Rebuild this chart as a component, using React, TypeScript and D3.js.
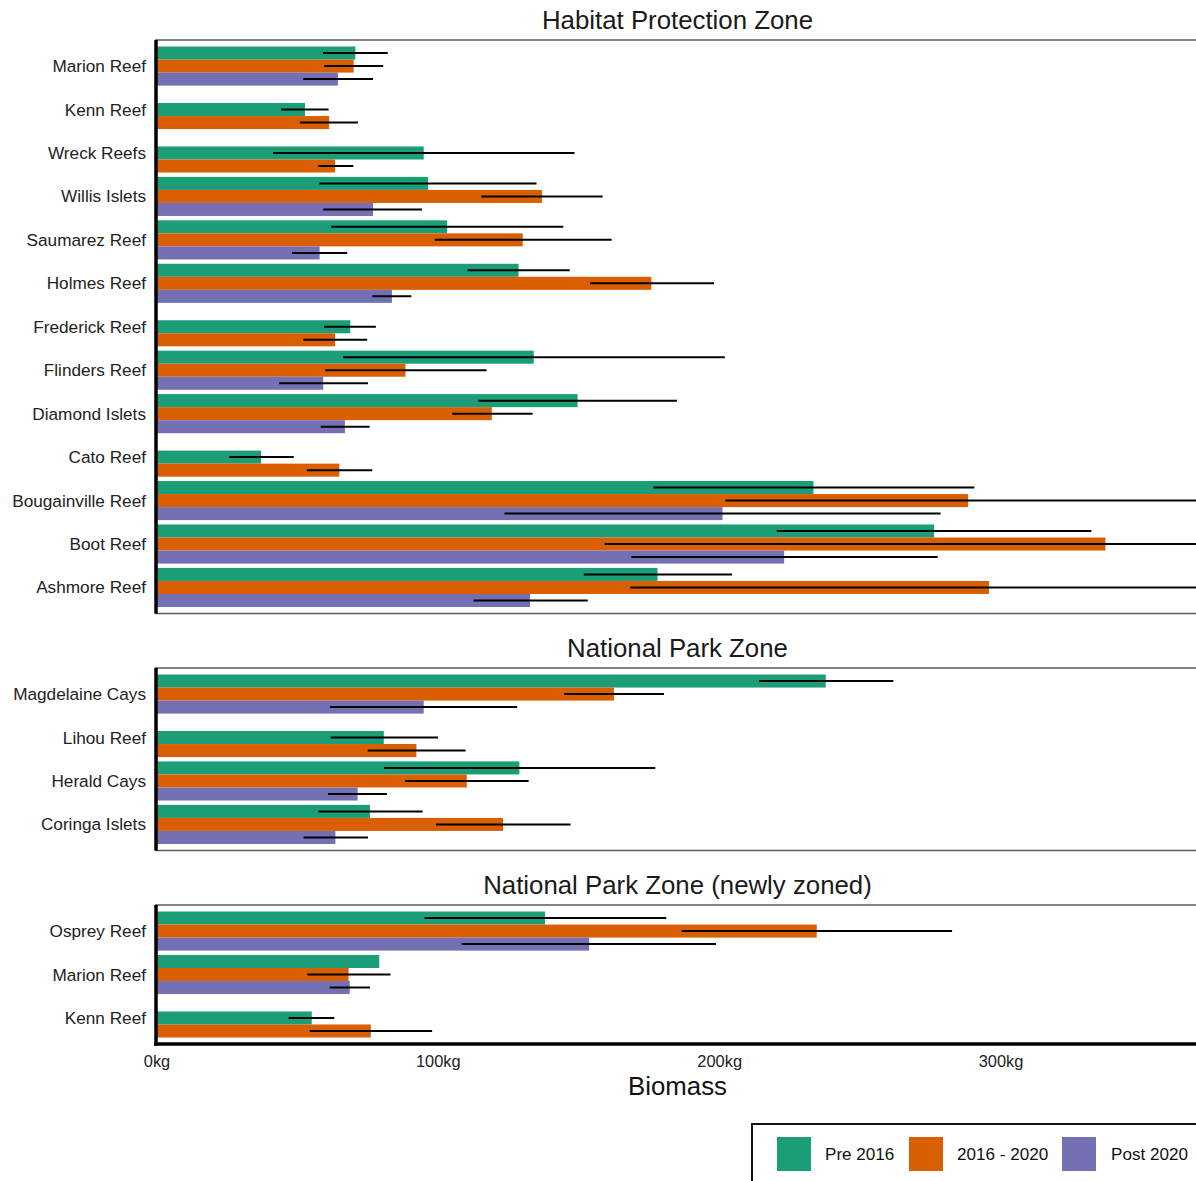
import React from "react";
import * as d3 from "d3";

// Fish biomass (kg) by site and survey period: [mean, lower, upper]
type Obs = [number, number, number] | [number] | null;

const periods = ["Pre 2016", "2016 - 2020", "Post 2020"];
const periodColors = ["#1B9E77", "#D95F02", "#7570B3"];

const hpzSites = [
  "Marion Reef", "Kenn Reef", "Wreck Reefs", "Willis Islets", "Saumarez Reef",
  "Holmes Reef", "Frederick Reef", "Flinders Reef", "Diamond Islets", "Cato Reef",
  "Bougainville Reef", "Boot Reef", "Ashmore Reef",
];
const hpzPre: Obs[] = [
  [70.5, 59, 82], [52.6, 44.1, 61], [94.8, 41.3, 148.4], [96.3, 57.7, 134.9],
  [103.1, 61.9, 144.4], [128.5, 110.4, 146.7], [68.7, 59.4, 77.8], [133.9, 66.2, 201.8],
  [149.5, 114.2, 184.8], [37, 25.7, 48.6], [233.3, 176.4, 290.5], [276.2, 220.3, 332.1],
  [177.9, 151.7, 204.4],
];
const hpzMid: Obs[] = [
  [69.9, 59.4, 80.4], [61.2, 50.8, 71.4], [63.3, 57.3, 69.8], [136.8, 115.3, 158.4],
  [130, 98.7, 161.6], [175.7, 153.9, 198], [63.3, 52, 74.7], [88.3, 59.8, 117.1],
  [119, 104.9, 133.5], [64.8, 53.3, 76.5], [288.3, 202, 374.6], [337.1, 159.1, 515],
  [295.7, 168.2, 423.2],
];
const hpzPost: Obs[] = [
  [64.3, 52, 76.8], null, null, [76.8, 59.1, 94.2],
  [57.8, 48, 67.6], [83.5, 76.5, 90.4], null, [59.1, 43.4, 75],
  [66.8, 58.2, 75.6], null, [201, 123.5, 278.5], [222.9, 168.6, 277.5],
  [132.6, 112.5, 153.1],
];

const npzSites = ["Magdelaine Cays", "Lihou Reef", "Herald Cays", "Coringa Islets"];
const npzPre: Obs[] = [[237.7, 214, 261.7], [80.6, 61.7, 99.9], [128.8, 80.7, 177.1], [75.7, 57.3, 94.4]];
const npzMid: Obs[] = [[162.4, 144.7, 180.2], [92.2, 74.9, 109.7], [110.1, 88.2, 132.1], [123, 99.2, 147]];
const npzPost: Obs[] = [[94.8, 61.5, 128], null, [71.3, 60.8, 81.7], [63.4, 52.1, 75]];

const newSites = ["Osprey Reef", "Marion Reef", "Kenn Reef"];
const newPre: Obs[] = [[137.9, 95.1, 181], [79], [55, 46.8, 63]];
const newMid: Obs[] = [[234.5, 186.5, 282.6], [68.1, 53.4, 83], [76, 54.3, 97.8]];
const newPost: Obs[] = [[153.6, 108.3, 198.7], [68.5, 61.4, 75.7], null];

const xTicks = [0, 100, 200, 300];

const zones = [
  { title: "Habitat Protection Zone", sites: hpzSites, series: [hpzPre, hpzMid, hpzPost] },
  { title: "National Park Zone", sites: npzSites, series: [npzPre, npzMid, npzPost] },
  { title: "National Park Zone (newly zoned)", sites: newSites, series: [newPre, newMid, newPost] },
];

const FONT = "'Liberation Sans', Arial, Helvetica, sans-serif";
const W = 1196;
const H = 1181;
const UNIT = 43.45;
const panelTops = [40, 668, 905];
const left = 157;
const right = 1198;

export default function App() {
  const x = d3.scaleLinear().domain([0, 370]).range([left, right]);
  const barH = (UNIT * 0.9) / 3;

  const panels = zones.map((z, zi) => {
    const top = panelTops[zi];
    const n = z.sites.length;
    const bottom = top + UNIT * (n + 0.2);
    const y = d3
      .scalePoint<string>()
      .domain(z.sites.map((s, i) => `${i}`))
      .range([top + 0.6 * UNIT, bottom - 0.6 * UNIT]);
    const isLast = zi === zones.length - 1;
    const clipId = `clip-${zi}`;

    const marks: React.ReactNode[] = [];
    const errs: React.ReactNode[] = [];
    z.sites.forEach((site, si) => {
      const cy = y(`${si}`) as number;
      const present = z.series
        .map((s, pi) => ({ pi, d: s[si] }))
        .filter((e) => e.d !== null) as { pi: number; d: number[] }[];
      // missing periods leave their slot empty at the top of the group
      const offset = 3 - present.length;
      present.forEach((e, k) => {
        const slot = offset + k;
        const y0 = cy - 1.5 * barH + slot * barH;
        marks.push(
          <rect
            key={`b-${si}-${e.pi}`}
            x={x(0)}
            y={y0}
            width={x(e.d[0]) - x(0)}
            height={barH}
            fill={periodColors[e.pi]}
          />
        );
        if (e.d.length === 3) {
          errs.push(
            <line
              key={`e-${si}-${e.pi}`}
              x1={x(e.d[1])}
              x2={x(e.d[2])}
              y1={y0 + barH / 2}
              y2={y0 + barH / 2}
              stroke="#000"
              strokeWidth={2}
            />
          );
        }
      });
    });

    return (
      <g key={zi}>
        <defs>
          <clipPath id={clipId}>
            <rect x={left} y={top} width={right - left} height={bottom - top} />
          </clipPath>
        </defs>
        <text
          x={(left + right) / 2}
          y={top - 20}
          dy="0.35em"
          textAnchor="middle"
          fontSize={25.8}
          fill="#1a1a1a"
          fontFamily={FONT}
        >
          {z.title}
        </text>
        <g clipPath={`url(#${clipId})`}>
          {marks}
          {errs}
        </g>
        {/* panel border */}
        <line x1={left - 2} x2={right} y1={top} y2={top} stroke="#5a5a5a" strokeWidth={1.5} />
        {!isLast && (
          <line x1={left - 2} x2={right} y1={bottom} y2={bottom} stroke="#5a5a5a" strokeWidth={1.5} />
        )}
        {isLast && (
          <line x1={left - 3} x2={right} y1={bottom} y2={bottom} stroke="#000" strokeWidth={3.5} />
        )}
        <line x1={left - 1} x2={left - 1} y1={top} y2={bottom + (isLast ? 1.5 : 0)} stroke="#000" strokeWidth={3.5} />
        {z.sites.map((s, si) => (
          <text
            key={`l-${si}`}
            x={146}
            y={y(`${si}`) as number}
            dy="0.35em"
            textAnchor="end"
            fontSize={17.2}
            fill="#222"
            fontFamily={FONT}
          >
            {s}
          </text>
        ))}
        {isLast &&
          xTicks.map((t) => (
            <text
              key={`t-${t}`}
              x={x(t)}
              y={bottom + 17}
              dy="0.35em"
              textAnchor="middle"
              fontSize={16.4}
              fill="#222"
              fontFamily={FONT}
            >
              {`${t}kg`}
            </text>
          ))}
        {isLast && (
          <text
            x={(left + right) / 2}
            y={bottom + 42}
            dy="0.35em"
            textAnchor="middle"
            fontSize={25.8}
            fill="#111"
            fontFamily={FONT}
          >
            Biomass
          </text>
        )}
      </g>
    );
  });

  const legendX = [777, 909, 1062];
  const legendLabelX = [825, 957, 1111];

  return (
    <svg
      width={W}
      height={H}
      viewBox={`0 0 ${W} ${H}`}
      style={{ position: "absolute", left: 0, top: 0, background: "#fff" }}
    >
      <rect x={0} y={0} width={W} height={H} fill="#fff" />
      {panels}
      <g>
        <rect x={752} y={1124} width={500} height={100} fill="#fff" stroke="#111" strokeWidth={2} />
        {periods.map((p, i) => (
          <g key={p}>
            <rect x={legendX[i]} y={1137} width={34} height={34} fill={periodColors[i]} />
            <text
              x={legendLabelX[i]}
              y={1154}
              dy="0.35em"
              fontSize={17.1}
              fill="#111"
              fontFamily={FONT}
            >
              {p}
            </text>
          </g>
        ))}
      </g>
    </svg>
  );
}
